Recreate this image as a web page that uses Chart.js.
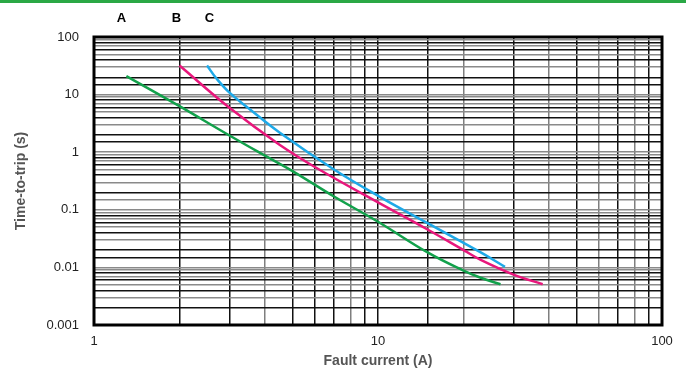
<!DOCTYPE html>
<html>
<head>
<meta charset="utf-8">
<script src="https://cdn.jsdelivr.net/npm/chart.js@4"></script>
<style>
  html, body { margin: 0; padding: 0; background: #fff; }
  #wrap { width: 686px; height: 378px; }
</style>
</head>
<body>
<div id="wrap"><canvas id="myChart" width="686" height="378"></canvas></div>
<script>
// trip curves (current in A, time in s)
var currentA = [1.3, 2, 3, 4, 5, 7, 10, 15, 20, 23, 27];
var tripA    = [21, 6.3, 1.95, 0.87, 0.47, 0.17, 0.062, 0.018, 0.0088, 0.0066, 0.0051];
var currentB = [2, 3, 4.5, 6.25, 10, 15, 20, 23, 30, 38];
var tripB    = [32, 5.9, 1.35, 0.49, 0.135, 0.045, 0.020, 0.0135, 0.0075, 0.0051];
var currentC = [2.5, 2.7, 3, 3.5, 4.5, 7, 10, 15, 23, 28];
var tripC    = [32, 19, 10.8, 5.8, 2.2, 0.5, 0.175, 0.058, 0.0182, 0.0102];

var curveNames = ['A', 'B', 'C'];
var curveLabelAt = [1.25, 1.95, 2.55];
var xDecades = [1, 10, 100];
var yDecades = [0.001, 0.01, 0.1, 1, 10, 100];

var FONT = 'Liberation Sans, Arial, sans-serif';

function $each(arr, fn) { for (var i = 0; i < arr.length; i++) fn(i, arr[i]); }
function toPoints(xs, ys) {
	var pts = [];
	$each(xs, function(i, v){ pts.push({x: v, y: ys[i]}); });
	return pts;
}

function mantissa(v) {
	return Math.round(v / Math.pow(10, Math.floor(Math.log10(v) + 1e-9)));
}
function isDecade(v, list) {
	for (var i = 0; i < list.length; i++) {
		if (Math.abs(v - list[i]) / list[i] < 1e-6) return true;
	}
	return false;
}

var framePlugin = {
	id: 'frame',
	afterDraw: function(chart) {
		var ctx = chart.ctx;
		var a = chart.chartArea;
		ctx.save();
		// green strip along the top
		ctx.fillStyle = '#2aa845';
		ctx.fillRect(0, 0, chart.width, 3);
		// heavy frame round the plot
		ctx.strokeStyle = '#000';
		ctx.lineWidth = 3;
		ctx.strokeRect(a.left, a.top, a.right - a.left, a.bottom - a.top);
		// curve letters above the plot
		ctx.fillStyle = '#000';
		ctx.font = 'bold 13px ' + FONT;
		ctx.textAlign = 'center';
		ctx.textBaseline = 'middle';
		var xs = chart.scales.x;
		$each(curveNames, function(i, name){
			ctx.fillText(name, xs.getPixelForValue(curveLabelAt[i]), 18);
		});
		ctx.restore();
	}
};

var ctx = document.getElementById('myChart').getContext('2d');
var config = {
	type: 'line',
	data: {
		datasets: [
			{ label: 'A', data: toPoints(currentA, tripA), borderColor: '#12a14b' },
			{ label: 'B', data: toPoints(currentB, tripB), borderColor: '#e8177c' },
			{ label: 'C', data: toPoints(currentC, tripC), borderColor: '#1ea9e8' }
		]
	},
	options: {
		responsive: false,
		animation: false,
		layout: { padding: { top: 37, right: 24, left: 10, bottom: 0 } },
		elements: {
			point: { radius: 0 },
			line: { borderWidth: 2.5, tension: 0.4, fill: false }
		},
		plugins: {
			legend: { display: false },
			tooltip: { enabled: false }
		},
		scales: {
			x: {
				type: 'logarithmic',
				min: 1,
				max: 100,
				afterFit: function(s) { s.height = 53; },
				border: { display: false },
				grid: {
					drawTicks: false,
					lineWidth: 1.5,
					color: function(c) {
						var m = mantissa(c.tick.value);
						if (c.tick.value >= 20) return (m % 2 === 0) ? '#7f7f7f' : '#111';
						return (m === 4 || m === 8) ? '#7f7f7f' : '#111';
					}
				},
				ticks: {
					autoSkip: false,
					maxRotation: 0,
					padding: 9,
					color: '#222',
					font: { family: FONT, size: 13 },
					callback: function(v) { return isDecade(v, xDecades) ? String(v) : ''; }
				},
				title: {
					display: true,
					text: 'Fault current (A)',
					color: '#555',
					font: { family: FONT, size: 14, weight: 'bold' },
					padding: { top: 0, bottom: 8 }
				}
			},
			y: {
				type: 'logarithmic',
				min: 0.001,
				max: 100,
				afterFit: function(s) { s.width = 84; },
				border: { display: false },
				grid: {
					drawTicks: false,
					lineWidth: 1.5,
					color: function(c) {
						var m = mantissa(c.tick.value);
						return (m % 2 === 1) ? '#8a8a8a' : '#111';
					}
				},
				ticks: {
					autoSkip: false,
					padding: 15,
					color: '#222',
					font: { family: FONT, size: 13 },
					callback: function(v) {
						if (!isDecade(v, yDecades)) return '';
						return v >= 1 ? String(Math.round(v)) : String(parseFloat(v.toPrecision(1)));
					}
				},
				title: {
					display: true,
					text: 'Time-to-trip (s)',
					color: '#555',
					font: { family: FONT, size: 14, weight: 'bold' },
					padding: { top: 3, bottom: 0 }
				}
			}
		}
	},
	plugins: [framePlugin]
};
var myChart = new Chart(ctx, config);
</script>
</body>
</html>
